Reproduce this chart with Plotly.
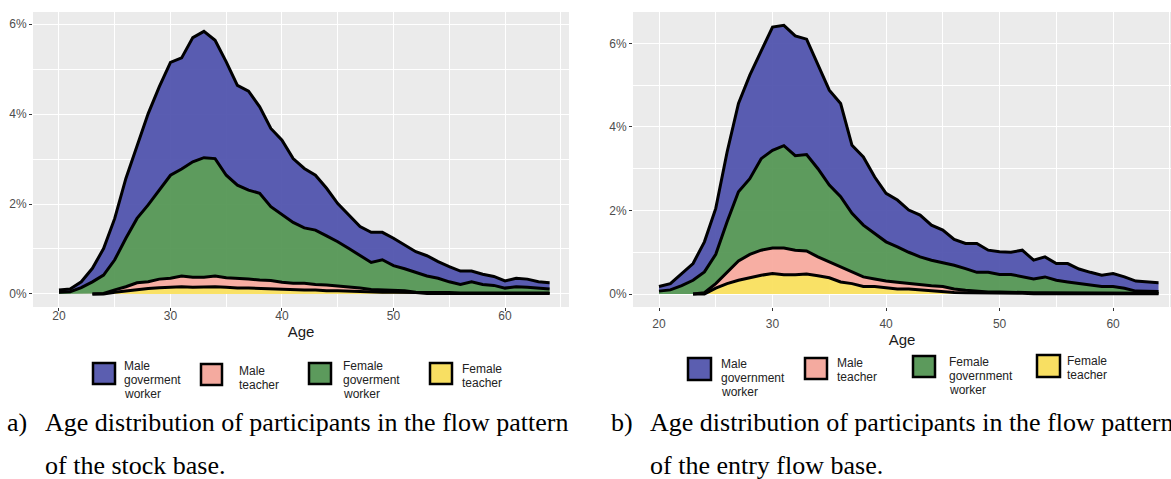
import numpy as np
import plotly.graph_objects as go

W, H = 1171, 479

ages = list(range(20, 65))          # government workers
teacher_ages = list(range(23, 65))  # teachers

# a) stock base: share of participants by age (%)
stock_male_gov = [0.05, 0.06, 0.13, 0.30, 0.59, 0.92, 1.33, 1.59, 2.03, 2.30,
                  2.51, 2.47, 2.76, 2.81, 2.63, 2.52, 2.22, 2.20, 1.92, 1.74,
                  1.66, 1.42, 1.32, 1.22, 1.06, 0.85, 0.75, 0.65, 0.67, 0.61,
                  0.61, 0.53, 0.46, 0.45, 0.37, 0.34, 0.30, 0.24, 0.23, 0.20,
                  0.16, 0.19, 0.18, 0.14, 0.14]
stock_female_gov = [0.04, 0.05, 0.14, 0.27, 0.41, 0.67, 1.08, 1.43, 1.71, 1.98,
                    2.29, 2.38, 2.57, 2.66, 2.61, 2.28, 2.07, 1.98, 1.93, 1.64,
                    1.50, 1.35, 1.23, 1.21, 1.09, 0.98, 0.86, 0.72, 0.60, 0.67,
                    0.54, 0.49, 0.44, 0.36, 0.32, 0.24, 0.19, 0.25, 0.19, 0.17,
                    0.11, 0.14, 0.13, 0.11, 0.09]
stock_male_teacher = [0.00, 0.01, 0.05, 0.09, 0.15, 0.15, 0.19, 0.20, 0.24, 0.22,
                      0.21, 0.24, 0.21, 0.22, 0.20, 0.19, 0.18, 0.15, 0.15, 0.15,
                      0.12, 0.13, 0.11, 0.09, 0.07, 0.06, 0.05, 0.05, 0.03, 0.01,
                      0.03, 0.02, 0.02, 0.01, 0.01, 0.01, 0.01, 0.01, 0.01, 0.01,
                      0.01, 0.01]
stock_female_teacher = [0.00, 0.00, 0.04, 0.07, 0.10, 0.12, 0.14, 0.15, 0.16, 0.15,
                        0.16, 0.16, 0.15, 0.13, 0.13, 0.12, 0.12, 0.11, 0.09, 0.09,
                        0.09, 0.07, 0.07, 0.06, 0.06, 0.04, 0.04, 0.04, 0.04, 0.03,
                        0.01, 0.01, 0.01, 0.01, 0.01, 0.01, 0.01, 0.01, 0.01, 0.01,
                        0.01, 0.01]

# b) entry flow base: share of participants by age (%)
entry_male_gov = [0.11, 0.15, 0.29, 0.40, 0.72, 1.10, 1.67, 2.11, 2.48, 2.59,
                  2.95, 2.88, 2.87, 2.76, 2.47, 2.27, 2.23, 1.63, 1.63, 1.35,
                  1.16, 1.12, 1.01, 1.00, 0.84, 0.78, 0.62, 0.60, 0.69, 0.53,
                  0.54, 0.53, 0.64, 0.45, 0.48, 0.40, 0.44, 0.35, 0.30, 0.27,
                  0.31, 0.27, 0.24, 0.23, 0.21]
entry_female_gov = [0.07, 0.10, 0.20, 0.33, 0.50, 0.70, 1.20, 1.66, 1.81, 2.19,
                    2.34, 2.45, 2.26, 2.31, 2.11, 1.84, 1.68, 1.40, 1.24, 1.09,
                    0.94, 0.85, 0.75, 0.66, 0.61, 0.57, 0.57, 0.52, 0.45, 0.47,
                    0.42, 0.43, 0.37, 0.33, 0.38, 0.30, 0.27, 0.23, 0.20, 0.16,
                    0.16, 0.12, 0.05, 0.04, 0.04]
entry_male_teacher = [0.00, 0.03, 0.11, 0.28, 0.46, 0.56, 0.60, 0.61, 0.64, 0.59,
                      0.55, 0.45, 0.38, 0.36, 0.28, 0.23, 0.18, 0.16, 0.16, 0.13,
                      0.13, 0.13, 0.12, 0.08, 0.06, 0.04, 0.03, 0.03, 0.02, 0.02,
                      0.02, 0.02, 0.02, 0.01, 0.01, 0.01, 0.01, 0.01, 0.01, 0.01,
                      0.01, 0.01]
entry_female_teacher = [0.00, 0.00, 0.14, 0.25, 0.33, 0.39, 0.45, 0.49, 0.46, 0.46,
                        0.48, 0.44, 0.39, 0.29, 0.25, 0.18, 0.18, 0.15, 0.12, 0.12,
                        0.10, 0.07, 0.06, 0.04, 0.03, 0.03, 0.02, 0.02, 0.02, 0.02,
                        0.01, 0.01, 0.01, 0.01, 0.01, 0.01, 0.01, 0.01, 0.01, 0.01,
                        0.01, 0.01]

x_ticks = [20, 30, 40, 50, 60]
x_minor = [25, 35, 45, 55, 65]
y_ticks = [0, 2, 4, 6]
y_minor = [1, 3, 5]
y_labels = ["0%", "2%", "4%", "6%"]

# stacking order, bottom to top
colors = {
    "female_teacher": "rgba(250,223,90,0.92)",
    "male_teacher": "rgba(247,168,156,0.92)",
    "female_gov": "rgba(80,148,80,0.92)",
    "male_gov": "rgba(76,79,171,0.92)",
}
solid = {
    "female_teacher": "#f8df62",
    "male_teacher": "#f4aa9f",
    "female_gov": "#5c9a5c",
    "male_gov": "#5b5eb0",
}


def px_x(v):
    return v / W


def px_y(v):
    return 1 - v / H


fig = go.Figure()


def add_panel(suffix, male_gov, female_gov, male_teacher, female_teacher):
    n_pad = len(ages) - len(teacher_ages)
    ft = np.concatenate([np.zeros(n_pad), female_teacher])
    mt = np.concatenate([np.zeros(n_pad), male_teacher])
    c1 = ft
    c2 = c1 + mt
    c3 = c2 + np.array(female_gov)
    c4 = c3 + np.array(male_gov)
    xa, ya = "x" + suffix, "y" + suffix
    layers = [("female_teacher", c1), ("male_teacher", c2),
              ("female_gov", c3), ("male_gov", c4)]
    for i, (key, top) in enumerate(layers):
        fig.add_trace(go.Scatter(
            x=ages, y=top, xaxis=xa, yaxis=ya, mode="lines",
            line=dict(width=0), fill="tozeroy" if i == 0 else "tonexty",
            fillcolor=colors[key], hoverinfo="skip", showlegend=False))
    # outlines along the top of every layer
    for key, top in layers:
        if "teacher" in key:
            xs, ys = teacher_ages, top[n_pad:]
        else:
            xs, ys = ages, top
        fig.add_trace(go.Scatter(
            x=xs, y=ys, xaxis=xa, yaxis=ya, mode="lines",
            line=dict(color="black", width=3), showlegend=False,
            hoverinfo="skip"))


add_panel("", stock_male_gov, stock_female_gov, stock_male_teacher, stock_female_teacher)
add_panel("2", entry_male_gov, entry_female_gov, entry_male_teacher, entry_female_teacher)

tick_font = dict(family="Liberation Sans, Arial", size=12, color="#4d4d4d")
grid = dict(showgrid=True, gridcolor="white", gridwidth=1.1, zeroline=False,
            showline=False, ticks="outside", ticklen=3, tickcolor="#333333",
            tickwidth=1, tickfont=tick_font, automargin=False)
minor = dict(showgrid=True, gridcolor="white", gridwidth=0.5, ticks="")
title_font = dict(family="Liberation Sans, Arial", size=15, color="#1a1a1a")

fig.update_layout(
    template="none",
    width=W, height=H,
    margin=dict(l=0, r=0, t=0, b=0),
    paper_bgcolor="white",
    plot_bgcolor="#ebebeb",
    showlegend=False,
    xaxis=dict(domain=[px_x(33), px_x(569)], range=[17.67, 65.74],
               tickmode="array", tickvals=x_ticks,
               minor=dict(tickvals=x_minor, **minor),
               ticklabelstandoff=-5,
               title=dict(text="Age", standoff=4, font=title_font),
               anchor="y", **grid),
    yaxis=dict(domain=[px_y(307), px_y(12)], range=[-0.29, 6.27],
               tickmode="array", tickvals=y_ticks, ticktext=y_labels,
               minor=dict(tickvals=y_minor, **minor),
               anchor="x", **grid),
    xaxis2=dict(domain=[px_x(633), 1.0], range=[17.71, 65.1],
                tickmode="array", tickvals=x_ticks,
                minor=dict(tickvals=x_minor, **minor),
                ticklabelstandoff=3,
                title=dict(text="Age", standoff=4, font=title_font),
                anchor="y2", **grid),
    yaxis2=dict(domain=[px_y(307), px_y(12)], range=[-0.31, 6.75],
                tickmode="array", tickvals=y_ticks, ticktext=y_labels,
                minor=dict(tickvals=y_minor, **minor),
                anchor="x2", **grid),
)

# legend keys and labels beneath each panel
legend_font = dict(family="Liberation Sans, Arial", size=12, color="#222222")
legends = [
    # (box x0, x1, y0, y1, text x, text centre y, key, lines)
    (93, 115, 363, 384, 122, 380, "male_gov", ["Male", "goverment", "worker"]),
    (201, 222, 364, 385, 237, 378, "male_teacher", ["Male", "teacher"]),
    (309, 331, 363, 384, 341, 380, "female_gov", ["Female", "goverment", "worker"]),
    (430, 452, 363, 384, 460, 376, "female_teacher", ["Female", "teacher"]),
    (688, 711, 358, 380, 719, 378, "male_gov", ["Male", "government", "worker"]),
    (805, 827, 358, 379, 835, 370, "male_teacher", ["Male", "teacher"]),
    (913, 935, 356, 377, 947, 376, "female_gov", ["Female", "government", "worker"]),
    (1037, 1060, 355, 377, 1065, 368, "female_teacher", ["Female", "teacher"]),
]
line_gap = 13.8
for x0, x1, y0, y1, tx, ty, key, lines in legends:
    fig.add_shape(type="rect", xref="paper", yref="paper",
                  x0=px_x(x0), x1=px_x(x1), y0=px_y(y1), y1=px_y(y0),
                  fillcolor=solid[key], line=dict(color="black", width=2.5))
    start = ty - line_gap * (len(lines) - 1) / 2
    for k, txt in enumerate(lines):
        fig.add_annotation(text=txt, xref="paper", yref="paper",
                           x=px_x(tx), y=px_y(start + k * line_gap),
                           xanchor="left", yanchor="middle", showarrow=False,
                           font=legend_font)

# figure captions
cap_font = dict(family="Liberation Serif, Times New Roman", size=26, color="black")
captions = [
    (5, 422, "a)"),
    (43, 422, "Age distribution of participants in the flow pattern"),
    (43, 465, "of the stock base."),
    (609, 422, "b)"),
    (648, 422, "Age distribution of participants in the flow pattern"),
    (648, 465, "of the entry flow base."),
]
for cx, cy, txt in captions:
    fig.add_annotation(text=txt, xref="paper", yref="paper",
                       x=px_x(cx), y=px_y(cy), xanchor="left", yanchor="middle",
                       showarrow=False, font=cap_font)

fig.write_html("out.html")
